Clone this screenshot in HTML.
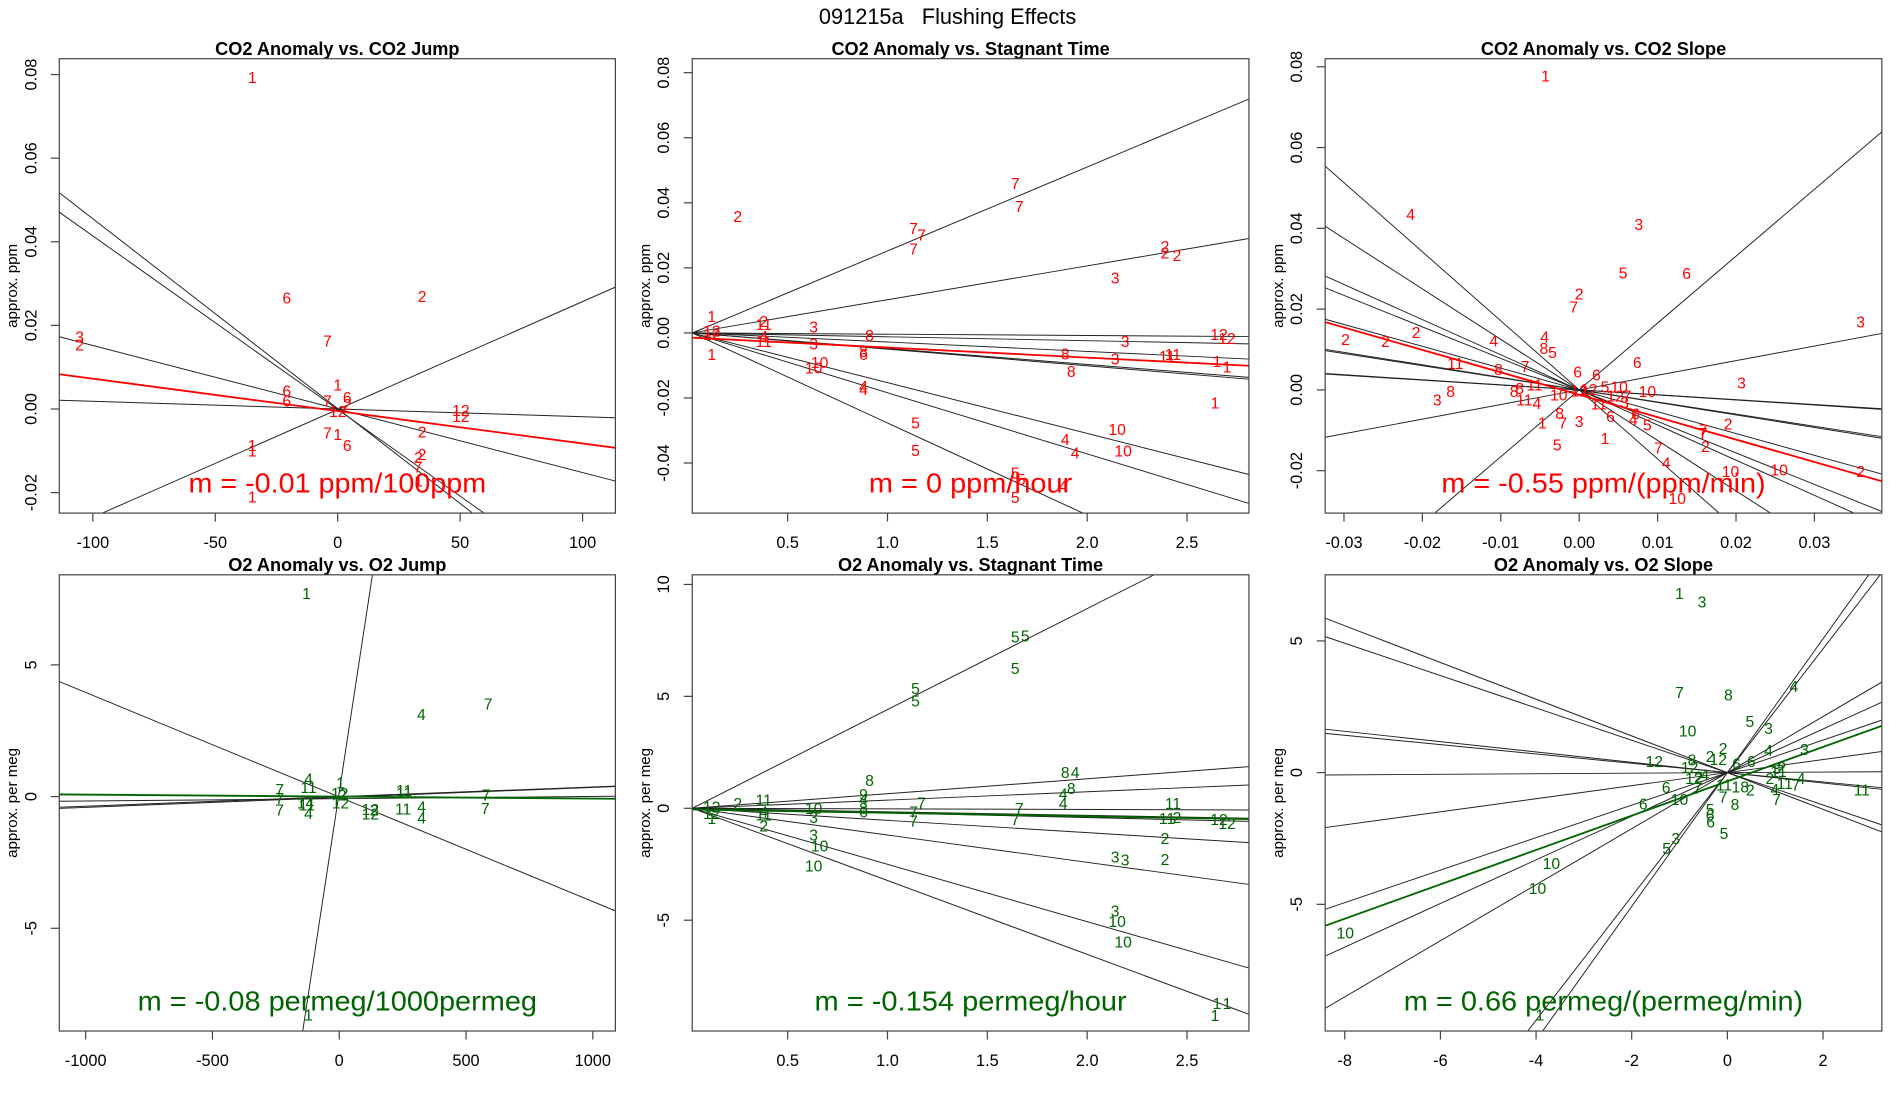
<!DOCTYPE html>
<html><head><meta charset="utf-8"><title>091215a Flushing Effects</title>
<style>
html,body{margin:0;padding:0;background:#fff;width:1900px;height:1100px;overflow:hidden;}
svg{display:block;font-family:"Liberation Sans",Arial,sans-serif;}
</style></head>
<body>
<svg id="fig" width="1900" height="1100" viewBox="0 0 1570 909" preserveAspectRatio="none" xmlns="http://www.w3.org/2000/svg">
<rect x="0" y="0" width="1570" height="909" fill="#fff"/>
<text x="783" y="20" font-size="18" text-anchor="middle" style="white-space:pre" xml:space="preserve">091215a   Flushing Effects</text>
</svg>
<script>
// ---------- DATA ----------
// Panel 1: CO2 Anomaly vs CO2 Jump
const co2JumpPoints = [[-34.9,0.0794,"1"],[-20.8,0.0266,"6"],[34.5,0.0269,"2"],[-105.4,0.0173,"3"],[-105.4,0.0153,"2"],[-4.2,0.0163,"7"],[0,0.0058,"1"],[-20.8,0.0043,"6"],[-20.8,0.002,"6"],[-4.2,0.002,"7"],[3.9,0.0028,"6"],[3.9,0.0011,"2"],[0,-0.0006,"12"],[50.3,-0.0003,"12"],[50.3,-0.0017,"12"],[34.5,-0.0054,"2"],[-4.2,-0.0057,"7"],[0,-0.0061,"1"],[3.9,-0.0087,"6"],[-34.9,-0.0087,"1"],[-34.9,-0.010,"1"],[34.5,-0.0108,"2"],[33,-0.0116,"2"],[32.8,-0.0138,"7"],[33,-0.0172,"1"],[-34.9,-0.021,"1"]];
const co2JumpSlopes = [-0.000454,-0.000415,-0.000152,-0.0000185,0.000258];
const co2JumpInts = [0.0001,-0.0001,0,0,-0.0001];
const co2JumpFit = [-0.0000775,-0.0005];

// Panel 2: CO2 Anomaly vs Stagnant Time
const co2StagPoints = [[1.64,0.046,"7"],[1.66,0.0389,"7"],[0.25,0.0358,"2"],[1.13,0.0322,"7"],[1.17,0.0302,"7"],[1.13,0.0259,"7"],[2.39,0.0266,"2"],[2.39,0.0246,"2"],[2.45,0.0238,"2"],[2.14,0.0169,"3"],[0.12,0.0051,"1"],[0.38,0.0036,"2"],[0.38,0.0026,"11"],[0.63,0.0018,"3"],[0.12,0.0007,"12"],[0.12,-0.0005,"12"],[0.91,-0.0008,"8"],[0.38,-0.001,"4"],[0.38,-0.0026,"11"],[0.63,-0.0033,"3"],[2.66,-0.0005,"12"],[2.70,-0.0017,"12"],[2.19,-0.0026,"3"],[0.88,-0.0056,"8"],[0.88,-0.0066,"6"],[0.12,-0.0066,"1"],[1.89,-0.0064,"8"],[2.40,-0.0072,"11"],[2.43,-0.0066,"11"],[2.14,-0.0079,"3"],[0.66,-0.009,"10"],[0.63,-0.0107,"10"],[2.65,-0.0087,"1"],[2.70,-0.0104,"1"],[1.92,-0.0118,"8"],[0.88,-0.0164,"4"],[0.88,-0.0174,"4"],[2.64,-0.0215,"1"],[1.14,-0.0276,"5"],[2.15,-0.0297,"10"],[1.89,-0.0327,"4"],[1.14,-0.0361,"5"],[2.18,-0.0363,"10"],[1.94,-0.0368,"4"],[1.64,-0.043,"5"],[1.67,-0.045,"5"],[1.88,-0.047,"4"],[1.64,-0.0506,"5"]];
const co2StagSlopes = [0.0258,0.0104,-0.0004,-0.0012,-0.0029,-0.0049,-0.0051,-0.0156,-0.0188,-0.0283];
const co2StagInts = [-0.0006,-0.0002,0,0,0.0001,0.0001,0.0001,0.0003,0.0004,0.0006];
const co2StagFit = [-0.0031,-0.0014];

// Panel 3: CO2 Anomaly vs CO2 Slope
const co2SlopePoints = [[-0.0043,0.0777,"1"],[-0.0215,0.0435,"4"],[0.0076,0.041,"3"],[0.0056,0.029,"5"],[0.0137,0.0289,"6"],[0,0.0238,"2"],[-0.0007,0.0206,"7"],[0.0359,0.0169,"3"],[-0.0298,0.0125,"2"],[-0.0247,0.012,"2"],[-0.0208,0.0142,"2"],[-0.0109,0.0121,"4"],[-0.0044,0.0132,"4"],[-0.0045,0.0103,"8"],[-0.0034,0.0093,"5"],[-0.0158,0.0066,"11"],[-0.0103,0.0051,"8"],[-0.0069,0.0059,"7"],[0.0074,0.0068,"6"],[-0.0002,0.0045,"6"],[0.0022,0.0037,"6"],[0.0207,0.0018,"3"],[-0.0057,0.0012,"11"],[0.0033,0.0008,"5"],[0.0051,0.0008,"10"],[0.0087,-0.0004,"10"],[-0.0164,-0.0004,"8"],[-0.0181,-0.0025,"3"],[-0.0083,-0.0004,"8"],[-0.0076,0.0004,"8"],[-0.0026,-0.0012,"10"],[0,-0.0002,"12"],[0.0012,0.0002,"12"],[-0.007,-0.0025,"11"],[-0.0054,-0.0033,"4"],[0.0046,-0.0015,"12"],[0.0061,-0.0015,"7"],[0.0025,-0.0035,"11"],[0.0058,-0.0031,"3"],[0.004,-0.0066,"6"],[-0.0025,-0.0058,"8"],[-0.0047,-0.0082,"1"],[-0.0021,-0.0081,"7"],[0,-0.0078,"3"],[0.0072,-0.0059,"6"],[0.0069,-0.0073,"4"],[0.0087,-0.0087,"5"],[0.019,-0.0084,"2"],[0.0158,-0.0099,"7"],[0.0158,-0.0107,"7"],[0.0033,-0.012,"1"],[-0.0028,-0.0136,"5"],[0.0161,-0.014,"2"],[0.0101,-0.0144,"7"],[0.0111,-0.018,"4"],[0.0193,-0.0202,"10"],[0.0255,-0.0198,"10"],[0.0359,-0.0202,"2"],[0.0125,-0.0268,"10"]];
const co2SlopeSlopes = [1.655,0.362,-0.121,-0.125,-0.30,-0.31,-0.54,-0.78,-0.87,-1.25,-1.71];
const co2SlopeInts = [0,0,0,0,0,0,0,0,0,0,0];
const co2SlopeFit = [-0.555,-0.0012];

// Panel 4: O2 Anomaly vs O2 Jump
const o2JumpPoints = [[-129,7.72,"1"],[587,3.52,"7"],[324,3.13,"4"],[-121,0.67,"4"],[5,0.53,"1"],[-235,0.28,"7"],[-121,0.35,"11"],[2,0.13,"12"],[12,0.07,"2"],[256,0.23,"11"],[256,0.15,"11"],[579,0.06,"7"],[-235,-0.06,"7"],[-133,-0.23,"14"],[-128,-0.32,"11"],[5,-0.23,"12"],[-235,-0.51,"7"],[-121,-0.63,"4"],[123,-0.48,"12"],[123,-0.66,"12"],[138,-0.5,"2"],[252,-0.47,"11"],[325,-0.38,"4"],[325,-0.8,"4"],[576,-0.44,"7"],[-121,-8.29,"1"]];
const o2JumpSlopes = [0.063,-0.00397,0.000365,0.00038,0.000087];
const o2JumpInts = [0.17,-0.015,0,-0.03,-0.08];
const o2JumpFit = [-0.000075,0];

// Panel 5: O2 Anomaly vs Stagnant Time
const o2StagPoints = [[1.64,7.67,"5"],[1.69,7.7,"5"],[1.64,6.26,"5"],[1.14,5.37,"5"],[1.14,4.8,"5"],[0.91,1.24,"8"],[1.89,1.61,"8"],[1.94,1.61,"4"],[1.92,0.89,"8"],[1.88,0.64,"4"],[0.88,0.63,"9"],[0.88,0.4,"4"],[1.88,0.22,"4"],[1.17,0.25,"7"],[1.66,0,"7"],[2.43,0.22,"11"],[0.38,0.37,"11"],[0.25,0.22,"2"],[0.63,0,"10"],[0.12,0.07,"12"],[0.88,0,"8"],[0.88,-0.15,"6"],[1.13,-0.15,"7"],[0.12,-0.22,"12"],[0.12,-0.45,"1"],[0.38,-0.3,"11"],[0.38,-0.15,"4"],[0.63,-0.4,"3"],[1.13,-0.55,"7"],[1.64,-0.49,"7"],[2.40,-0.45,"11"],[2.45,-0.4,"2"],[2.66,-0.49,"12"],[2.70,-0.67,"12"],[0.38,-0.79,"2"],[0.63,-1.19,"3"],[2.39,-1.34,"2"],[0.66,-1.68,"10"],[2.14,-2.16,"3"],[2.19,-2.31,"3"],[2.39,-2.28,"2"],[0.63,-2.58,"10"],[2.14,-4.58,"3"],[2.15,-5.04,"10"],[2.18,-5.96,"10"],[2.65,-8.72,"1"],[2.70,-8.72,"1"],[2.64,-9.24,"1"]];
const o2StagSlopes = [4.51,0.667,0.373,-0.027,-0.16,-0.21,-0.55,-1.22,-2.56,-3.30];
const o2StagInts = [-0.1,-0.015,-0.008,0,0.004,0.005,0.012,0.027,0.056,0.073];
const o2StagFit = [-0.154,-0.05];

// Panel 6: O2 Anomaly vs O2 Slope
const o2SlopePoints = [[-1.0,6.81,"1"],[-0.53,6.49,"3"],[1.39,3.27,"4"],[-1.0,3.04,"7"],[0.02,2.95,"8"],[0.47,1.94,"5"],[0.86,1.68,"3"],[-0.83,1.59,"10"],[1.61,0.89,"3"],[0.86,0.84,"4"],[-0.09,0.92,"2"],[-1.53,0.42,"12"],[-0.74,0.48,"8"],[-0.36,0.61,"2"],[-0.19,0.51,"12"],[0.5,0.42,"6"],[0.19,0.33,"6"],[-0.79,0.2,"12"],[1.03,0.16,"3"],[1.14,0.2,"2"],[-0.47,-0.09,"4"],[-0.7,-0.22,"12"],[-0.6,-0.15,"2"],[1.07,0.04,"11"],[0.89,-0.22,"2"],[1.54,-0.22,"4"],[-1.28,-0.56,"6"],[-0.63,-0.59,"7"],[-0.07,-0.47,"11"],[0.27,-0.53,"18"],[0.48,-0.66,"2"],[2.81,-0.66,"11"],[1.43,-0.47,"7"],[1.2,-0.41,"11"],[0.99,-0.63,"4"],[-0.09,-0.91,"7"],[1.03,-1.01,"7"],[-1.0,-1.01,"10"],[-1.76,-1.19,"6"],[0.16,-1.2,"8"],[-0.36,-1.39,"5"],[-0.36,-1.61,"6"],[-0.35,-1.86,"6"],[-0.07,-2.3,"5"],[-1.08,-2.49,"3"],[-1.27,-2.87,"5"],[-3.68,-3.44,"10"],[-3.97,-4.39,"10"],[-7.99,-6.08,"10"],[-3.92,-9.2,"1"]];
const o2SlopeSlopes = [-0.697,-0.614,-0.196,-0.177,0.0107,0.248,0.617,0.828,1.064,2.54,2.35];
const o2SlopeInts = [0,0,0,0,0,0,0,0,0,0,0];
const o2SlopeFit = [0.652,-0.33];

// Tick values
const p1XTicks = [-100,-50,0,50,100];
const p1YTicks = [-0.02,0,0.02,0.04,0.06,0.08];
const p2XTicks = [0.5,1.0,1.5,2.0,2.5];
const p2YTicks = [-0.04,-0.02,0,0.02,0.04,0.06,0.08];
const p3XTicks = [-0.03,-0.02,-0.01,0,0.01,0.02,0.03];
const p3YTicks = [-0.02,0,0.02,0.04,0.06,0.08];
const p4XTicks = [-1000,-500,0,500,1000];
const p4YTicks = [-5,0,5];
const p5XTicks = [0.5,1.0,1.5,2.0,2.5];
const p5YTicks = [-5,0,5,10];
const p6XTicks = [-8,-6,-4,-2,0,2];
const p6YTicks = [-5,0,5];

// ---------- LAYOUT ----------
const svg = document.getElementById('fig');
const NS = 'http://www.w3.org/2000/svg';
function mk(tag, attrs, parent){
  const e = document.createElementNS(NS, tag);
  for (const k in attrs) e.setAttribute(k, attrs[k]);
  (parent||svg).appendChild(e);
  return e;
}
function fmt2(v){ return v.toFixed(2); }
function fmt1(v){ return v.toFixed(1); }
function fmt0(v){ return String(v); }

const panels = [
  {id:'co2-jump', title:'CO2 Anomaly vs. CO2 Jump', box:[49,48.5,508.5,424], xr:[-113.7,113.4], yr:[-0.0249,0.0838], pts:co2JumpPoints, sl:co2JumpSlopes, ic:co2JumpInts, fit:co2JumpFit, xt:p1XTicks, yt:p1YTicks, xf:fmt0, yf:fmt2, col:'#ff0000', ylab:'approx. ppm', ann:'m = -0.01 ppm/100ppm', annW:246},
  {id:'co2-stagnant', title:'CO2 Anomaly vs. Stagnant Time', box:[572,48.5,1032,424], xr:[0.022,2.81], yr:[-0.0554,0.0843], pts:co2StagPoints, sl:co2StagSlopes, ic:co2StagInts, fit:co2StagFit, xt:p2XTicks, yt:p2YTicks, xf:fmt1, yf:fmt2, col:'#ff0000', ylab:'approx. ppm', ann:'m = 0 ppm/hour', annW:168},
  {id:'co2-slope', title:'CO2 Anomaly vs. CO2 Slope', box:[1095,48.5,1555,424], xr:[-0.0324,0.0386], yr:[-0.0305,0.082], pts:co2SlopePoints, sl:co2SlopeSlopes, ic:co2SlopeInts, fit:co2SlopeFit, xt:p3XTicks, yt:p3YTicks, xf:fmt2, yf:fmt2, col:'#ff0000', ylab:'approx. ppm', ann:'m = -0.55 ppm/(ppm/min)', annW:268},
  {id:'o2-jump', title:'O2 Anomaly vs. O2 Jump', box:[49,475,508.5,852], xr:[-1104,1089], yr:[-8.9,8.42], pts:o2JumpPoints, sl:o2JumpSlopes, ic:o2JumpInts, fit:o2JumpFit, xt:p4XTicks, yt:p4YTicks, xf:fmt0, yf:fmt0, col:'#006400', ylab:'approx. per meg', ann:'m = -0.08 permeg/1000permeg', annW:330},
  {id:'o2-stagnant', title:'O2 Anomaly vs. Stagnant Time', box:[572,475,1032,852], xr:[0.022,2.81], yr:[-9.95,10.43], pts:o2StagPoints, sl:o2StagSlopes, ic:o2StagInts, fit:o2StagFit, xt:p5XTicks, yt:p5YTicks, xf:fmt1, yf:fmt0, col:'#006400', ylab:'approx. per meg', ann:'m = -0.154 permeg/hour', annW:258},
  {id:'o2-slope', title:'O2 Anomaly vs. O2 Slope', box:[1095,475,1555,852], xr:[-8.41,3.23], yr:[-9.81,7.51], pts:o2SlopePoints, sl:o2SlopeSlopes, ic:o2SlopeInts, fit:o2SlopeFit, xt:p6XTicks, yt:p6YTicks, xf:fmt0, yf:fmt0, col:'#006400', ylab:'approx. per meg', ann:'m = 0.66 permeg/(permeg/min)', annW:330}
];

panels.forEach(function(p){
  const [x0,y0,x1,y1] = p.box;
  const sx = v => x0 + (v - p.xr[0]) / (p.xr[1]-p.xr[0]) * (x1-x0);
  const sy = v => y1 - (v - p.yr[0]) / (p.yr[1]-p.yr[0]) * (y1-y0);
  const g = mk('g', {});
  
  

  const cp = mk('clipPath', {id:'clip-'+p.id}, g);
  mk('rect', {x:x0, y:y0, width:x1-x0, height:y1-y0}, cp);

  const t = mk('text', {x:(x0+x1)/2, y:y0-3, 'font-size':15, 'font-weight':'bold', 'text-anchor':'middle'}, g);
  t.textContent = p.title;
  
  

  const yl = mk('text', {x:0, y:0, 'font-size':12.5, 'text-anchor':'middle', transform:'translate('+(x0-35)+','+((y0+y1)/2)+') rotate(-90)'}, g);
  yl.textContent = p.ylab;
  
  

  const lg = mk('g', {'clip-path':'url(#clip-'+p.id+')'}, g);
  p.sl.forEach(function(m, i){
    const b = p.ic[i];
    const ln = mk('line', {x1:sx(p.xr[0]), y1:sy(m*p.xr[0]+b), x2:sx(p.xr[1]), y2:sy(m*p.xr[1]+b), stroke:'#222', 'stroke-width':0.8}, lg);
    
    
  });
  const fl = mk('line', {x1:sx(p.xr[0]), y1:sy(p.fit[0]*p.xr[0]+p.fit[1]), x2:sx(p.xr[1]), y2:sy(p.fit[0]*p.xr[1]+p.fit[1]), stroke:p.col, 'stroke-width':1.5}, lg);
  
  

  const pg = mk('g', {'clip-path':'url(#clip-'+p.id+')'}, g);
  p.pts.forEach(function(d){
    const tx = mk('text', {x:sx(d[0]), y:sy(d[1])+4.7, 'font-size':13, fill:p.col, 'text-anchor':'middle'}, pg);
    tx.textContent = d[2];
    
    
  });

  const an = mk('text', {x:(x0+x1)/2, y:y1-17, 'font-size':23, fill:p.col, 'text-anchor':'middle', textLength:p.annW, lengthAdjust:'spacingAndGlyphs'}, g);
  an.textContent = p.ann;
  
  

  const bx = mk('rect', {x:x0, y:y0, width:x1-x0, height:y1-y0, fill:'none', stroke:'#444', 'stroke-width':1}, g);
  
  

  p.xt.forEach(function(v){
    const X = sx(v);
    const tk = mk('line', {x1:X, y1:y1, x2:X, y2:y1+7, stroke:'#444', 'stroke-width':1}, g);
    
    
    const tl = mk('text', {x:X, y:y1+29, 'font-size':13.5, 'text-anchor':'middle'}, g);
    tl.textContent = p.xf(v);
    
    
  });
  p.yt.forEach(function(v){
    const Y = sy(v);
    const tk = mk('line', {x1:x0-7, y1:Y, x2:x0, y2:Y, stroke:'#444', 'stroke-width':1}, g);
    
    
    const tl = mk('text', {x:0, y:0, 'font-size':13.5, 'text-anchor':'middle', transform:'translate('+(x0-19)+','+Y+') rotate(-90)'}, g);
    tl.textContent = p.yf(v);
    
    
  });
});
</script>
</body></html>
